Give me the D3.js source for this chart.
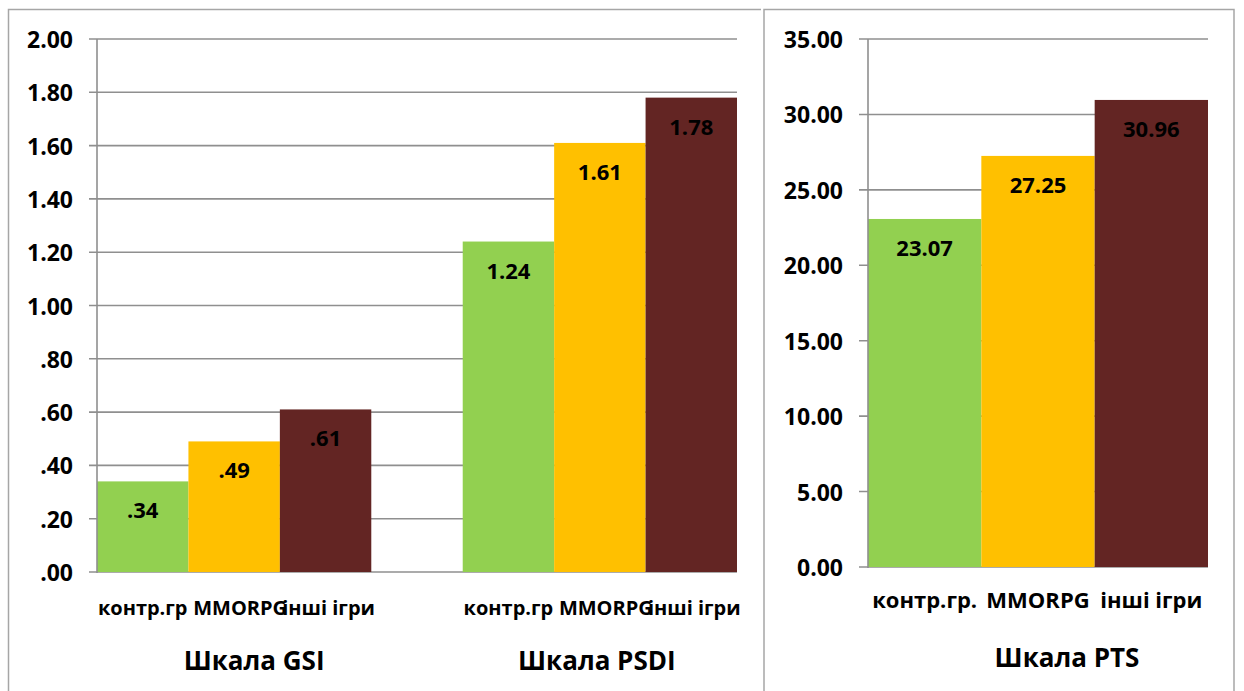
<!DOCTYPE html>
<html>
<head>
<meta charset="utf-8">
<script src="https://cdn.jsdelivr.net/npm/d3@7/dist/d3.min.js"></script>
<style>
  html, body { margin: 0; padding: 0; background: #fff; }
  svg { display: block; font-family: "Open Sans", "Noto Sans", sans-serif; font-weight: bold; }
</style>
</head>
<body>
<svg id="chart" width="1244" height="691"></svg>
<script>
// Groups compared in every scale
const groupsShort = ["контр.гр", "MMORPG", "інші ігри"];
const groupsPts = ["контр.гр.", "MMORPG", "інші ігри"];
const groupColors = ["#92D050", "#FFC000", "#632523"];

// Scale means per group
const scalesLeft = ["Шкала GSI", "Шкала PSDI"];
const gsiValues = [0.34, 0.49, 0.61];
const psdiValues = [1.24, 1.61, 1.78];
const ptsValues = [23.07, 27.25, 30.96];
const ptsTitle = "Шкала PTS";

// Axis ticks
const leftTicks = [0, 0.2, 0.4, 0.6, 0.8, 1.0, 1.2, 1.4, 1.6, 1.8, 2.0];
const rightTicks = [0, 5, 10, 15, 20, 25, 30, 35];

const svg = d3.select("#chart");
const gridColor = "#8f8f8f";
const borderColor = "#a6a6a6";

// Number formats: values below 1 drop the leading zero
const fmt2 = d3.format(".2f");
const fmtNoZero = v => { const s = fmt2(v); return s.startsWith("0.") ? s.slice(1) : s; };

// Panel frames
svg.append("path")
  .attr("d", "M8.5,700 V9.5 H761")
  .attr("fill", "none").attr("stroke", borderColor).attr("stroke-width", 1.5);
svg.append("path")
  .attr("d", "M764,700 V9.5 H1234 V700")
  .attr("fill", "none").attr("stroke", borderColor).attr("stroke-width", 1.5);

function drawPanel(cfg) {
  const g = svg.append("g");
  const y = d3.scaleLinear().domain(cfg.domain).range([cfg.bottom, cfg.top]);
  const outer = d3.scaleBand().domain(cfg.blocks.map(b => b.title))
    .range([cfg.left, cfg.right]).paddingInner(cfg.gap).paddingOuter(0);
  const inner = d3.scaleBand().domain(d3.range(cfg.labels.length))
    .range([0, outer.bandwidth()]).padding(0);

  // Gridlines with outward ticks
  g.append("g").selectAll("line").data(cfg.ticks).join("line")
    .attr("x1", cfg.left - cfg.tickLen).attr("x2", cfg.right)
    .attr("y1", d => y(d)).attr("y2", d => y(d))
    .attr("stroke", gridColor).attr("stroke-width", 1.6);

  // Tick labels
  g.append("g").selectAll("text").data(cfg.ticks).join("text")
    .attr("x", cfg.labelX).attr("y", d => y(d))
    .attr("text-anchor", "end").attr("dominant-baseline", "central")
    .attr("font-size", 23).attr("fill", "#000")
    .text(cfg.tickFormat);

  cfg.blocks.forEach(block => {
    const bx = outer(block.title);
    const bg = g.append("g").attr("transform", `translate(${bx},0)`);
    bg.selectAll("rect").data(block.values).join("rect")
      .attr("x", (d, i) => inner(i)).attr("width", inner.bandwidth())
      .attr("y", d => y(d)).attr("height", d => y(0) - y(d))
      .attr("fill", (d, i) => groupColors[i]);
    bg.selectAll("text.val").data(block.values).join("text")
      .attr("class", "val")
      .attr("x", (d, i) => inner(i) + inner.bandwidth() / 2)
      .attr("y", d => y(d) + 37)
      .attr("text-anchor", "middle").attr("font-size", 22).attr("fill", "#000")
      .text(cfg.valueFormat);
    bg.selectAll("text.cat").data(cfg.labels).join("text")
      .attr("class", "cat")
      .attr("x", (d, i) => inner(i) + inner.bandwidth() / 2 + (cfg.catShift ? cfg.catShift[i] : 0))
      .attr("y", cfg.catY)
      .attr("text-anchor", "middle").attr("font-size", cfg.catSize).attr("fill", "#000")
      .text(d => d);
    g.append("text")
      .attr("x", bx + outer.bandwidth() / 2 + block.titleShift)
      .attr("y", cfg.titleY)
      .attr("text-anchor", "middle").attr("font-size", 26).attr("fill", "#000")
      .text(block.title);
  });

  // Value axis line
  g.append("line")
    .attr("x1", cfg.left).attr("x2", cfg.left)
    .attr("y1", cfg.top).attr("y2", cfg.bottom + 1)
    .attr("stroke", gridColor).attr("stroke-width", 1.6);
}

drawPanel({
  domain: [0, 2], top: 39, bottom: 572, left: 97, right: 737, gap: 0.25,
  tickLen: 8, labelX: 73, ticks: leftTicks, tickFormat: fmtNoZero, valueFormat: fmtNoZero,
  labels: groupsShort, catShift: [0, 6, 3], catY: 615, catSize: 20, titleY: 670,
  blocks: [
    { title: scalesLeft[0], values: gsiValues, titleShift: 20 },
    { title: scalesLeft[1], values: psdiValues, titleShift: -3 }
  ]
});

drawPanel({
  domain: [0, 35], top: 39, bottom: 567, left: 868, right: 1208, gap: 0,
  tickLen: 9, labelX: 843, ticks: rightTicks, tickFormat: fmt2, valueFormat: fmt2,
  labels: groupsPts, catY: 608, catSize: 22, titleY: 667,
  blocks: [
    { title: ptsTitle, values: ptsValues, titleShift: 29 }
  ]
});
</script>
</body>
</html>
